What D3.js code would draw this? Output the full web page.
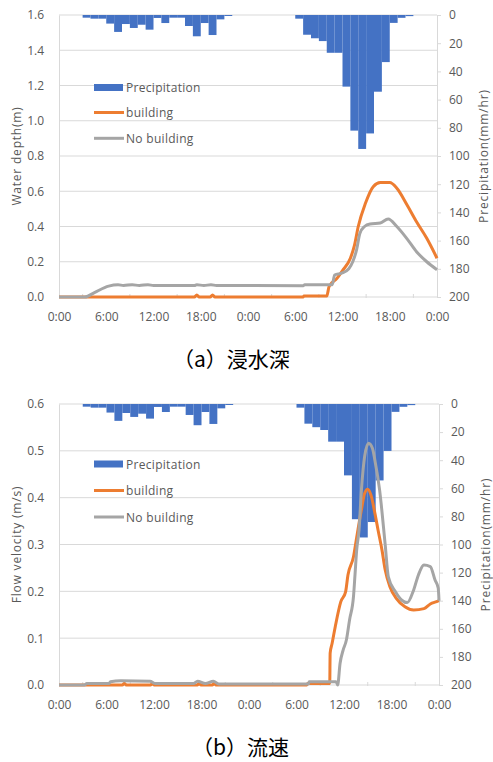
<!DOCTYPE html>
<html>
<head>
<meta charset="utf-8">
<script src="https://cdn.jsdelivr.net/npm/d3@7"></script>
<style>
body { margin: 0; background: #fff; }
svg text { font-family: "Open Sans", sans-serif; fill: #595959; }
</style>
</head>
<body>
<div id="chart"></div>
<script>
// x axis labels, every 6 hours over 2 days
var hourTicks = [0, 6, 12, 18, 24, 30, 36, 42, 48];
var hourLabels = ["0:00", "6:00", "12:00", "18:00", "0:00", "6:00", "12:00", "18:00", "0:00"];

// hourly precipitation (mm/hr), hour = start of the hour
var rainHour = [3, 4, 5, 6, 7, 8, 9, 10, 11, 12, 13, 14, 15, 16, 17, 18, 19, 20, 21,
                30, 31, 32, 33, 34, 35, 36, 37, 38, 39, 40, 41, 42, 43, 44];
var rainValue = [1.9, 2.6, 2.6, 6.1, 12, 6.4, 9.2, 6.9, 10.4, 2.1, 5.7, 1.9, 1.9, 7.8, 15.1, 5.7, 14.2, 3.1, 0.7,
                 2.6, 14, 16.5, 18.5, 26.8, 26.8, 50.8, 82, 95, 84, 54.4, 33.4, 5.6, 2, 0.8];

// water depth (m) - building
var depthBuildingT = [0, 17.2, 17.5, 17.8, 19.2, 19.5, 19.8, 31, 31.1, 34, 34.3, 35.3, 36, 37, 37.5, 38, 38.9, 39.9, 40.8, 42, 42.9, 44.2, 45.4, 46.7, 48];
var depthBuilding  = [0, 0, 0.011, 0, 0, 0.011, 0, 0, 0.005, 0.005, 0.06, 0.106, 0.15, 0.22, 0.29, 0.40, 0.53, 0.626, 0.649, 0.649, 0.617, 0.522, 0.427, 0.333, 0.22];
// water depth (m) - no building
var depthNoBuildingT = [0, 3.3, 4.5, 6.3, 7.5, 8.2, 9.3, 10.2, 11.3, 12, 17.2, 17.5, 18.4, 19.3, 20, 31, 31.2, 34.7, 35, 35.9, 36.8, 37.3, 37.8, 38.2, 38.8, 39.5, 40.8, 41.8, 42.9, 44.2, 45.4, 46.7, 48];
var depthNoBuilding  = [0, 0, 0.025, 0.062, 0.07, 0.065, 0.07, 0.065, 0.07, 0.065, 0.065, 0.07, 0.065, 0.07, 0.065, 0.064, 0.07, 0.07, 0.125, 0.135, 0.16, 0.2, 0.27, 0.36, 0.40, 0.414, 0.42, 0.443, 0.40, 0.33, 0.257, 0.20, 0.155];

// flow velocity (m/s) - building
var velBuildingT = [0, 8, 8.25, 8.5, 11.6, 11.8, 12, 17.5, 17.7, 17.9, 19.4, 19.6, 19.8, 31.3, 31.4, 34.2, 34.25, 34.5, 34.9, 35.6, 36.2, 36.5, 37.2, 37.6, 38.2, 38.6, 39, 39.4, 39.9, 40.3, 40.8, 41.2, 41.8, 42.6, 43.7, 44.8, 46.1, 46.9, 47.7, 48];
var velBuilding  = [0, 0, 0.004, 0, 0, 0.004, 0, 0, 0.004, 0, 0, 0.004, 0, 0, 0.003, 0.003, 0.068, 0.089, 0.125, 0.178, 0.199, 0.235, 0.274, 0.315, 0.374, 0.409, 0.418, 0.406, 0.367, 0.331, 0.288, 0.246, 0.21, 0.185, 0.167, 0.16, 0.163, 0.173, 0.178, 0.18];
// flow velocity (m/s) - no building
var velNoBuildingT = [0, 3.2, 3.5, 6.3, 6.5, 7.8, 11.5, 12.2, 17, 17.5, 18.5, 19.5, 20.2, 31.5, 31.6, 35, 35.2, 35.5, 35.9, 36.3, 36.7, 37.2, 37.4, 37.6, 37.9, 38.2, 38.6, 39.1, 39.6, 39.9, 40.5, 41.2, 41.6, 42.5, 43.3, 44, 44.8, 45.4, 46.1, 46.9, 47.5, 47.9, 48];
var velNoBuilding  = [0, 0, 0.003, 0.003, 0.007, 0.009, 0.008, 0.003, 0.003, 0.008, 0.003, 0.008, 0.002, 0.002, 0.007, 0.007, 0, 0.046, 0.075, 0.096, 0.139, 0.189, 0.238, 0.288, 0.331, 0.416, 0.4875, 0.516, 0.505, 0.48, 0.416, 0.30, 0.231, 0.199, 0.181, 0.176, 0.203, 0.235, 0.256, 0.253, 0.224, 0.207, 0.18];

var legendNames = ["Precipitation", "building", "No building"];
var colors = { rain: "#4472C4", building: "#ED7D31", noBuilding: "#A5A5A5", grid: "#D9D9D9" };

var svg = d3.select("#chart")
            .append("svg")
            .attr("width", 493)
            .attr("height", 762);

function zip(t, v) { return t.map(function(d, i) { return [d, v[i]]; }); }

function drawPanel(p) {
    var x = d3.scaleLinear().domain([0, 48]).range([p.left, p.right]);
    var yL = d3.scaleLinear().domain([0, p.yMax]).range([p.bottom, p.top]);
    var yR = d3.scaleLinear().domain([0, 200]).range([p.top, p.bottom]);
    var g = svg.append("g");

    // gridlines
    g.selectAll(null)
        .data(yL.ticks(p.nTicks))
        .enter().append("line")
        .attr("x1", p.left).attr("x2", p.right)
        .attr("y1", function(d) { return yL(d); })
        .attr("y2", function(d) { return yL(d); })
        .attr("stroke", colors.grid);

    // left axis
    var ax = g.append("g").attr("transform", "translate(" + p.left + ",0)")
        .call(d3.axisLeft(yL).ticks(p.nTicks).tickFormat(d3.format(".1f")).tickSize(0).tickPadding(15));
    ax.select(".domain").attr("stroke", colors.grid);
    ax.selectAll("text").attr("font-size", 12);

    // right axis
    var ar = g.append("g").attr("transform", "translate(" + p.right + ",0)")
        .call(d3.axisRight(yR).ticks(10).tickSize(4).tickPadding(8));
    ar.selectAll(".domain, line").attr("stroke", colors.grid);
    ar.selectAll("text").attr("font-size", 12);

    // x axis
    var axb = g.append("g").attr("transform", "translate(0," + p.bottom + ")")
        .call(d3.axisBottom(x).tickValues(hourTicks)
              .tickFormat(function(d, i) { return hourLabels[i]; })
              .tickSize(0).tickPadding(15));
    axb.select(".domain").remove();
    axb.selectAll("text").attr("font-size", 12);

    // small tick marks
    g.selectAll(null)
        .data(d3.range(3, 48, 6))
        .enter().append("line")
        .attr("x1", function(d) { return x(d); }).attr("x2", function(d) { return x(d); })
        .attr("y1", p.bottom - 3).attr("y2", p.bottom + 1)
        .attr("stroke", colors.grid);

    // precipitation bars, hanging from the top
    g.selectAll(null)
        .data(rainValue)
        .enter().append("rect")
        .attr("x", function(d, i) { return x(rainHour[i]); })
        .attr("width", function(d, i) { return x(rainHour[i] + 1) - x(rainHour[i]); })
        .attr("y", yR(0))
        .attr("height", function(d) { return yR(d) - yR(0); })
        .attr("fill", colors.rain);

    var line = d3.line()
        .x(function(d) { return x(d[0]); })
        .y(function(d) { return yL(d[1]); })
        .curve(d3.curveMonotoneX);

    g.append("path").datum(p.building)
        .attr("d", line).attr("fill", "none")
        .attr("stroke", colors.building).attr("stroke-width", 3)
        .attr("stroke-linejoin", "round");
    g.append("path").datum(p.noBuilding)
        .attr("d", line).attr("fill", "none")
        .attr("stroke", colors.noBuilding).attr("stroke-width", 3)
        .attr("stroke-linejoin", "round");

    // axis titles
    g.append("text")
        .attr("transform", "translate(16," + (p.top + p.bottom) / 2 + ") rotate(-90)")
        .attr("text-anchor", "middle").attr("dominant-baseline", "central")
        .attr("font-size", 12).attr("letter-spacing", 0.8)
        .text(p.yLabel);
    g.append("text")
        .attr("transform", "translate(" + (p.right + 46) + "," + (p.top + p.bottom) / 2 + ") rotate(-90)")
        .attr("text-anchor", "middle").attr("dominant-baseline", "central")
        .attr("font-size", 12).attr("letter-spacing", 0.85)
        .text("Precipitation(mm/hr)");

    // legend
    var lg = g.append("g").attr("transform", "translate(94,0)");
    lg.append("rect").attr("x", 0).attr("y", p.legendY[0] - 3.5)
        .attr("width", 29).attr("height", 7).attr("fill", colors.rain);
    lg.append("line").attr("x1", 0).attr("x2", 30)
        .attr("y1", p.legendY[1]).attr("y2", p.legendY[1])
        .attr("stroke", colors.building).attr("stroke-width", 3);
    lg.append("line").attr("x1", 0).attr("x2", 30)
        .attr("y1", p.legendY[2]).attr("y2", p.legendY[2])
        .attr("stroke", colors.noBuilding).attr("stroke-width", 3);
    lg.selectAll(null)
        .data(legendNames)
        .enter().append("text")
        .attr("x", 32)
        .attr("y", function(d, i) { return p.legendY[i]; })
        .attr("dominant-baseline", "central")
        .attr("font-size", 12).attr("letter-spacing", 0.3)
        .text(function(d) { return d; });

    // caption
    svg.append("text")
        .attr("x", p.captionX).attr("y", p.captionY)
        .attr("font-size", 21)
        .style("font-family", "'Noto Sans CJK JP', sans-serif")
        .style("fill", "#000")
        .text(p.caption);
}

drawPanel({
    left: 59, right: 437, top: 15, bottom: 297,
    yMax: 1.6, nTicks: 8, yLabel: "Water depth(m)",
    building: zip(depthBuildingT, depthBuilding),
    noBuilding: zip(depthNoBuildingT, depthNoBuilding),
    legendY: [87.5, 112.5, 138.3],
    caption: "（a）浸水深", captionX: 173, captionY: 367
});

drawPanel({
    left: 59, right: 439, top: 404, bottom: 685,
    yMax: 0.6, nTicks: 6, yLabel: "Flow velocity (m/s)",
    building: zip(velBuildingT, velBuilding),
    noBuilding: zip(velNoBuildingT, velNoBuilding),
    legendY: [464, 490.5, 517],
    caption: "（b）流速", captionX: 192, captionY: 755
});
</script>
</body>
</html>
